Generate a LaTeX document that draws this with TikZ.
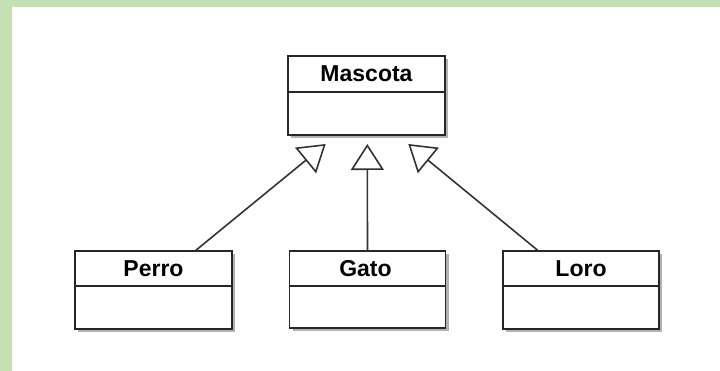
\documentclass[tikz,border=0pt]{standalone}
\usepackage{fontspec}
\setmainfont{Liberation Sans}
\usetikzlibrary{arrows.meta,shadows,calc}
\definecolor{frame}{RGB}{197,224,180}
\begin{document}
\begin{tikzpicture}[x=1pt,y=-1pt,
  cls/.style={draw=black!85, line width=1.8pt, fill=white, inner sep=0pt, outer sep=0pt,
    anchor=north west, minimum width=157pt, minimum height=78pt,
    drop shadow={shadow xshift=3pt, shadow yshift=-3pt, opacity=0.3, fill=black}},
  title/.style={font=\fontsize{23}{26}\selectfont\bfseries, inner sep=0pt, text=black},
  divider/.style={draw=black!85, line width=1.8pt},
  inh/.style={draw=black!80, line width=1.6pt, -{Triangle[open, length=26pt, width=33pt]}}]
\useasboundingbox (0,0) rectangle (720,371);
\fill[frame] (0,0) rectangle (720,7);
\fill[frame] (0,0) rectangle (12,371);

% classes
\node[cls, minimum height=79pt] (mascota) at (288,56) {};
\node[cls] (perro) at (75,251) {};
\node[cls, minimum width=156pt, minimum height=77pt] (gato) at (289.5,251) {};
\node[cls, minimum width=156pt] (loro) at (503,251) {};

\draw[divider] ($(mascota.north west)+(0,36)$) -- ($(mascota.north east)+(0,36)$);
\draw[divider] ($(perro.north west)+(0,35)$) -- ($(perro.north east)+(0,35)$);
\draw[divider] ($(gato.north west)+(0,35)$) -- ($(gato.north east)+(0,35)$);
\draw[divider] ($(loro.north west)+(0,35)$) -- ($(loro.north east)+(0,35)$);

\node[title] (mascotaT) at ($(mascota.north)+(0,18)$) {Mascota};
\node[title] (perroT) at ($(perro.north)+(0,17.5)$) {Perro};
\node[title] (gatoT) at ($(gato.north)+(-2,17.5)$) {Gato};
\node[title] (loroT) at ($(loro.north)+(0,17.5)$) {Loro};

% generalization connectors
\coordinate (tipL) at (325.7,144);
\coordinate (tipM) at (367.3,144);
\coordinate (tipR) at (408.3,144);
\draw[inh] ([xshift=120pt]perro.north west) -- (tipL);
\draw[inh] ([xshift=78pt]gato.north west) -- (tipM);
\draw[inh] ([xshift=35.5pt]loro.north west) -- (tipR);
\end{tikzpicture}
\end{document}
